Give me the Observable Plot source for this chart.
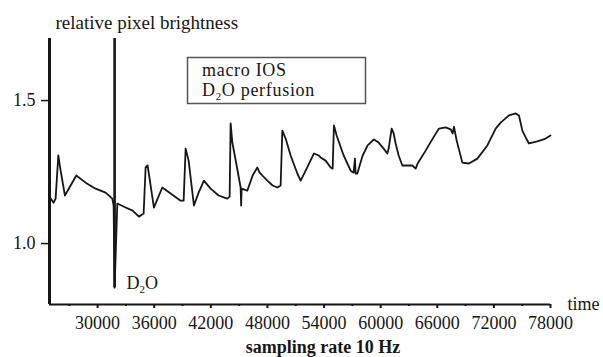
<!DOCTYPE html>
<html>
<head>
<meta charset="utf-8">
<script src="https://cdn.jsdelivr.net/npm/d3@7"></script>
<script src="https://cdn.jsdelivr.net/npm/@observablehq/plot@0.6"></script>
<style>
  html, body { margin: 0; padding: 0; background: #fff; }
  #chart { width: 603px; height: 357px; overflow: hidden; }
</style>
</head>
<body>
<div id="chart"></div>
<script>
// ---- data ----
const times = [24950, 25336, 25548, 25834, 26080, 26534, 27138, 27742, 28728, 29788, 30848, 31558, 31696, 31802,
  32088, 32968, 33710, 34378, 34876, 35088, 35300, 35618, 35968, 36360, 36858, 37738, 38798, 39116, 39328, 39646,
  40208, 40706, 41268, 41978, 42826, 43748, 43992, 44098, 44278, 44734, 45158, 45211, 45264, 45868, 46430, 46928,
  47172, 47458, 47988, 48550, 49048, 49398, 49578, 49928, 50458, 51168, 51518, 52154, 52930, 53428, 53638, 54168,
  54698, 54910, 55048, 55334, 56076, 56818, 57136, 57274, 57348, 57528, 58090, 58620, 59288, 59786, 60316, 60708,
  60846, 61164, 61376, 61588, 61906, 62298, 62754, 63358, 63708, 63920, 64768, 65510, 66178, 66888, 67418, 67630,
  67768, 68054, 68658, 69358, 70248, 71308, 72188, 72718, 73598, 74308, 74658, 75018, 75368, 75718, 76608, 77488, 78000];
const brightness = [1.161, 1.143, 1.157, 1.308, 1.255, 1.168, 1.203, 1.238, 1.213, 1.192, 1.178, 1.157, 1.133, 0.846,
  1.140, 1.126, 1.115, 1.094, 1.105, 1.266, 1.273, 1.203, 1.126, 1.157, 1.196, 1.175, 1.150, 1.150, 1.332, 1.290,
  1.133, 1.178, 1.220, 1.192, 1.168, 1.157, 1.164, 1.420, 1.353, 1.273, 1.196, 1.133, 1.192, 1.185, 1.238, 1.266,
  1.248, 1.238, 1.220, 1.203, 1.196, 1.203, 1.395, 1.367, 1.308, 1.245, 1.220, 1.262, 1.315, 1.308, 1.301, 1.290,
  1.266, 1.262, 1.413, 1.378, 1.308, 1.255, 1.248, 1.297, 1.245, 1.245, 1.308, 1.343, 1.364, 1.353, 1.332, 1.315,
  1.332, 1.402, 1.385, 1.350, 1.308, 1.273, 1.273, 1.273, 1.262, 1.280, 1.325, 1.367, 1.402, 1.406, 1.399, 1.385,
  1.409, 1.360, 1.283, 1.280, 1.297, 1.343, 1.402, 1.423, 1.448, 1.455, 1.448, 1.395, 1.371, 1.350, 1.357, 1.367, 1.378];

const xDomain = [24900, 78000];
const yDomain = [0.787, 1.717];
const xMajorTicks = [30000, 36000, 42000, 48000, 54000, 60000, 66000, 72000, 78000];
const xMinorTicks = [27000, 33000, 39000, 45000, 51000, 57000, 63000, 69000, 75000];
const yTicks = [1.0, 1.5];
const markerTime = [31800];      // D2O perfusion onset
const markerLow = 0.846;
const yTitle = "relative pixel brightness";
const xUnit = "time";
const xTitle = "sampling rate 10 Hz";
const markerLabel = "D2O";
const legendLines = ["macro IOS", "D2O perfusion"];

const data = times.map((t, i) => ({t, v: brightness[i]}));
const ink = "#161616";
const serif = "'Liberation Serif', 'Times New Roman', serif";

const chart = Plot.plot({
  width: 603,
  height: 357,
  marginLeft: 49,
  marginRight: 53,
  marginTop: 38,
  marginBottom: 53,
  x: {domain: xDomain, label: null},
  y: {domain: yDomain, label: null},
  style: {fontFamily: serif, fontSize: "18px", color: ink, background: "#fff", overflow: "visible"},
  marks: [
    Plot.line(data, {x: "t", y: "v", stroke: ink, strokeWidth: 1.8, strokeLinejoin: "round"}),
    Plot.ruleX(markerTime, {y1: markerLow, y2: yDomain[1], stroke: ink, strokeWidth: 2.6}),
    Plot.ruleX([xDomain[0]], {y1: yDomain[0], y2: yDomain[1], stroke: ink, strokeWidth: 3}),
    Plot.ruleY([yDomain[0]], {x1: xDomain[0], x2: xDomain[1], stroke: ink, strokeWidth: 2}),
    Plot.axisX(xMajorTicks, {tickSize: 4, tickPadding: 8, strokeWidth: 2, tickFormat: d => String(d), fontSize: 18, style: {letterSpacing: "0.9px"}}),
    Plot.axisX(xMinorTicks, {tickSize: 2, strokeWidth: 2, tickFormat: () => ""}),
    Plot.axisY(yTicks, {tickSize: 8, tickPadding: 6, strokeWidth: 1.5, tickFormat: d => d.toFixed(1), fontSize: 18, style: {letterSpacing: "0.5px"}}),
    Plot.text([yTitle], {frameAnchor: "top-left", dx: 6, dy: -10, textAnchor: "start", lineAnchor: "bottom", fontSize: 19, fill: ink, style: {letterSpacing: "0.6px"}}),
    Plot.text([xUnit], {frameAnchor: "bottom-right", dx: 17, dy: 5, textAnchor: "start", lineAnchor: "bottom", fontSize: 18, fill: ink}),
    Plot.text([xTitle], {frameAnchor: "bottom", dx: 23, dy: 48, textAnchor: "middle", lineAnchor: "bottom", fontSize: 18, fontWeight: "bold", fill: ink, style: {letterSpacing: "0.45px"}}),
    Plot.text(markerTime, {x: d => d, y: markerLow, text: () => markerLabel, dx: 12, dy: 1, textAnchor: "start", lineAnchor: "bottom", fontSize: 18, fill: ink, style: {letterSpacing: "0.5px"}})
  ]
});

document.getElementById("chart").appendChild(chart);

// legend box
const svg = d3.select(chart);
const lg = svg.append("g").attr("font-family", serif).attr("font-size", 18).attr("fill", ink)
  .attr("text-anchor", "start").attr("letter-spacing", "0.7px");
lg.append("rect").attr("x", 187.5).attr("y", 57.5).attr("width", 178).attr("height", 46)
  .attr("fill", "#fff").attr("stroke", "#555").attr("stroke-width", 1.5);
legendLines.forEach((s, i) => lg.append("text").attr("x", 202).attr("y", 76 + i * 20).attr("text-anchor", "start").text(s));

// subscript the 2 in D2O
const walker = document.createTreeWalker(chart, NodeFilter.SHOW_TEXT);
const nodes = [];
while (walker.nextNode()) if (walker.currentNode.nodeValue.includes("D2O")) nodes.push(walker.currentNode);
const NS = "http://www.w3.org/2000/svg";
nodes.forEach(n => {
  const val = n.nodeValue;
  const k = val.indexOf("D2O");
  const parent = n.parentNode;
  const frag = document.createDocumentFragment();
  frag.appendChild(document.createTextNode(val.slice(0, k) + "D"));
  const sub = document.createElementNS(NS, "tspan");
  sub.setAttribute("dy", "4"); sub.setAttribute("font-size", "0.6em"); sub.textContent = "2";
  frag.appendChild(sub);
  const rest = document.createElementNS(NS, "tspan");
  rest.setAttribute("dy", "-4"); rest.textContent = "O" + val.slice(k + 3);
  frag.appendChild(rest);
  parent.replaceChild(frag, n);
});
</script>
</body>
</html>
